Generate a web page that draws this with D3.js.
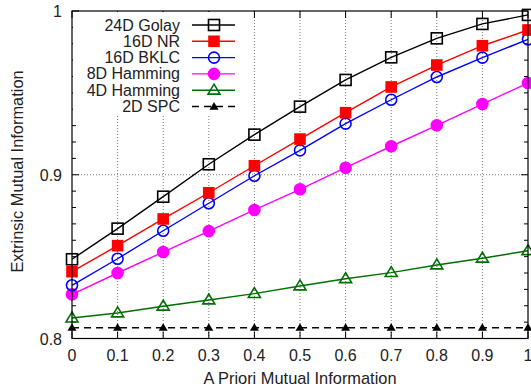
<!DOCTYPE html>
<html>
<head>
<meta charset="utf-8">
<script src="https://cdn.jsdelivr.net/npm/d3@7"></script>
<style>
  body { margin: 0; background: #fff; }
  svg { display: block; font-family: "Liberation Sans", Arial, sans-serif; }
</style>
</head>
<body>
<div id="chart"></div>
<script>
// x positions (a priori mutual information)
var xValues = [0, 0.1, 0.2, 0.3, 0.4, 0.5, 0.6, 0.7, 0.8, 0.9, 1];

// extrinsic mutual information, one array per code
var golay24 = [0.8484, 0.8671, 0.8866, 0.9064, 0.9245, 0.9416, 0.9579, 0.9717, 0.9833, 0.9921, 0.9976];
var nr16 = [0.8408, 0.8567, 0.8730, 0.8890, 0.9055, 0.9218, 0.9379, 0.9536, 0.9670, 0.9788, 0.9884];
var bklc16 = [0.8325, 0.8487, 0.8658, 0.8826, 0.8994, 0.9149, 0.9312, 0.9458, 0.9597, 0.9715, 0.9827];
var hamming8 = [0.8270, 0.8400, 0.8528, 0.8656, 0.8785, 0.8911, 0.9043, 0.9174, 0.9302, 0.9432, 0.9560];
var hamming4 = [0.8125, 0.8156, 0.8197, 0.8235, 0.8274, 0.8321, 0.8365, 0.8402, 0.8449, 0.8490, 0.8536];
var spc2 = [0.8066, 0.8066, 0.8066, 0.8066, 0.8066, 0.8066, 0.8066, 0.8066, 0.8066, 0.8066, 0.8066];

var seriesNames = ["24D Golay", "16D NR", "16D BKLC", "8D Hamming", "4D Hamming", "2D SPC"];

var xTicks = [0, 0.1, 0.2, 0.3, 0.4, 0.5, 0.6, 0.7, 0.8, 0.9, 1];
var yTicks = [0.8, 0.9, 1];

var series = [
  { name: seriesNames[0], values: golay24, color: "#000000", marker: "square", fill: false, dash: null },
  { name: seriesNames[1], values: nr16, color: "#ff0000", marker: "square", fill: true, dash: null },
  { name: seriesNames[2], values: bklc16, color: "#0000ff", marker: "circle", fill: false, dash: null },
  { name: seriesNames[3], values: hamming8, color: "#ff00ff", marker: "circle", fill: true, dash: null },
  { name: seriesNames[4], values: hamming4, color: "#006e00", marker: "triangle", fill: false, dash: null },
  { name: seriesNames[5], values: spc2, color: "#000000", marker: "smalltri", fill: true, dash: "7,5" }
];

var W = 531, H = 392;
var margin = { top: 11, right: 3, bottom: 53.5, left: 72 },
  width = W - margin.left - margin.right,
  height = H - margin.top - margin.bottom;

var svg = d3
  .select("#chart")
  .append("svg")
  .attr("width", W)
  .attr("height", H);

var g = svg.append("g").attr("transform", `translate(${margin.left}, ${margin.top})`);

var x = d3.scaleLinear().domain([0, 1]).range([0, width]);
var y = d3.scaleLinear().domain([0.8, 1]).range([height, 0]);

// grid (dotted)
g.append("g")
  .selectAll("line.vgrid")
  .data(xTicks.slice(1, -1))
  .enter()
  .append("line")
  .attr("x1", (d) => x(d))
  .attr("x2", (d) => x(d))
  .attr("y1", 0)
  .attr("y2", height)
  .attr("stroke", "#555")
  .attr("stroke-width", 0.8)
  .attr("stroke-dasharray", "1,2");

g.append("g")
  .selectAll("line.hgrid")
  .data(yTicks.slice(1, -1))
  .enter()
  .append("line")
  .attr("x1", 0)
  .attr("x2", width)
  .attr("y1", (d) => y(d))
  .attr("y2", (d) => y(d))
  .attr("stroke", "#555")
  .attr("stroke-width", 0.8)
  .attr("stroke-dasharray", "1,2");

// inward ticks, mirrored on all sides
var minorY = d3.range(0, 21).map((i) => 0.8 + i * 0.01);
var ticks = g.append("g").attr("stroke", "#000").attr("stroke-width", 1);
minorY.forEach(function(v) {
  var isMajor = Math.abs(Math.round(v * 10) - v * 10) < 1e-6;
  var len = isMajor ? 7 : 4;
  ticks.append("line").attr("x1", 0).attr("x2", len).attr("y1", y(v)).attr("y2", y(v));
  ticks.append("line").attr("x1", width).attr("x2", width - len).attr("y1", y(v)).attr("y2", y(v));
});
xTicks.forEach(function(v) {
  ticks.append("line").attr("x1", x(v)).attr("x2", x(v)).attr("y1", height).attr("y2", height - 7);
  ticks.append("line").attr("x1", x(v)).attr("x2", x(v)).attr("y1", 0).attr("y2", 7);
});

// tick labels
g.append("g")
  .selectAll("text")
  .data(xTicks)
  .enter()
  .append("text")
  .attr("x", (d) => x(d))
  .attr("y", height + 22)
  .attr("text-anchor", "middle")
  .attr("font-size", 16)
  .attr("fill", "#222")
  .text((d) => d3.format("~g")(d));

g.append("g")
  .selectAll("text")
  .data(yTicks)
  .enter()
  .append("text")
  .attr("x", -10)
  .attr("y", (d) => y(d) + 6)
  .attr("text-anchor", "end")
  .attr("font-size", 16)
  .attr("fill", "#222")
  .text((d) => d3.format("~g")(d));

// axis titles
svg
  .append("text")
  .attr("x", 300)
  .attr("y", 384)
  .attr("text-anchor", "middle")
  .attr("font-size", 16.4)
  .attr("fill", "#222")
  .text("A Priori Mutual Information");

svg
  .append("text")
  .attr("transform", "translate(22.5, 171.5) rotate(-90)")
  .attr("text-anchor", "middle")
  .attr("font-size", 16.4)
  .attr("fill", "#222")
  .text("Extrinsic Mutual Information");

function drawMarker(sel, s, cx, cy) {
  var fill = s.fill ? s.color : "none";
  if (s.marker === "square") {
    var a = s.fill ? 10 : 11;
    sel.append("rect")
      .attr("x", cx - a / 2).attr("y", cy - a / 2)
      .attr("width", a).attr("height", a)
      .attr("fill", fill).attr("stroke", s.color).attr("stroke-width", 1.6);
  } else if (s.marker === "circle") {
    sel.append("circle")
      .attr("cx", cx).attr("cy", cy).attr("r", 5.5)
      .attr("fill", fill).attr("stroke", s.color).attr("stroke-width", 1.6);
  } else if (s.marker === "triangle") {
    var h = 6;
    sel.append("path")
      .attr("d", `M${cx},${cy - h} L${cx + h},${cy + h * 0.65} L${cx - h},${cy + h * 0.65} Z`)
      .attr("fill", "none").attr("stroke", s.color).attr("stroke-width", 1.6);
  } else {
    var t = 4.5;
    sel.append("path")
      .attr("d", `M${cx},${cy - t} L${cx + t},${cy + t * 0.7} L${cx - t},${cy + t * 0.7} Z`)
      .attr("fill", s.color);
  }
}

var line = d3
  .line()
  .x((d, i) => x(xValues[i]))
  .y((d) => y(d));

// draw series (bottom ones first)
series
  .slice()
  .reverse()
  .forEach(function(s) {
    g.append("path")
      .datum(s.values)
      .attr("d", line)
      .attr("fill", "none")
      .attr("stroke", s.color)
      .attr("stroke-width", 1.4)
      .attr("stroke-dasharray", s.dash);
    var mg = g.append("g");
    s.values.forEach(function(v, i) {
      drawMarker(mg, s, x(xValues[i]), y(v));
    });
  });

// legend with opaque background
var legend = g.append("g");
legend
  .append("rect")
  .attr("x", 1)
  .attr("y", 1)
  .attr("width", 172)
  .attr("height", 102)
  .attr("fill", "#fff");

series.forEach(function(s, i) {
  var ly = 14 + i * 16.3;
  legend
    .append("text")
    .attr("x", 108)
    .attr("y", ly + 5.5)
    .attr("text-anchor", "end")
    .attr("font-size", 16)
    .attr("fill", "#222")
    .text(s.name);
  legend
    .append("line")
    .attr("x1", 120)
    .attr("x2", 163)
    .attr("y1", ly)
    .attr("y2", ly)
    .attr("stroke", s.color)
    .attr("stroke-width", 1.4)
    .attr("stroke-dasharray", s.dash);
  drawMarker(legend, s, 142, ly);
});

// border
g.append("rect")
  .attr("width", width)
  .attr("height", height)
  .attr("fill", "none")
  .attr("stroke", "#000")
  .attr("stroke-width", 1.2);
</script>
</body>
</html>
